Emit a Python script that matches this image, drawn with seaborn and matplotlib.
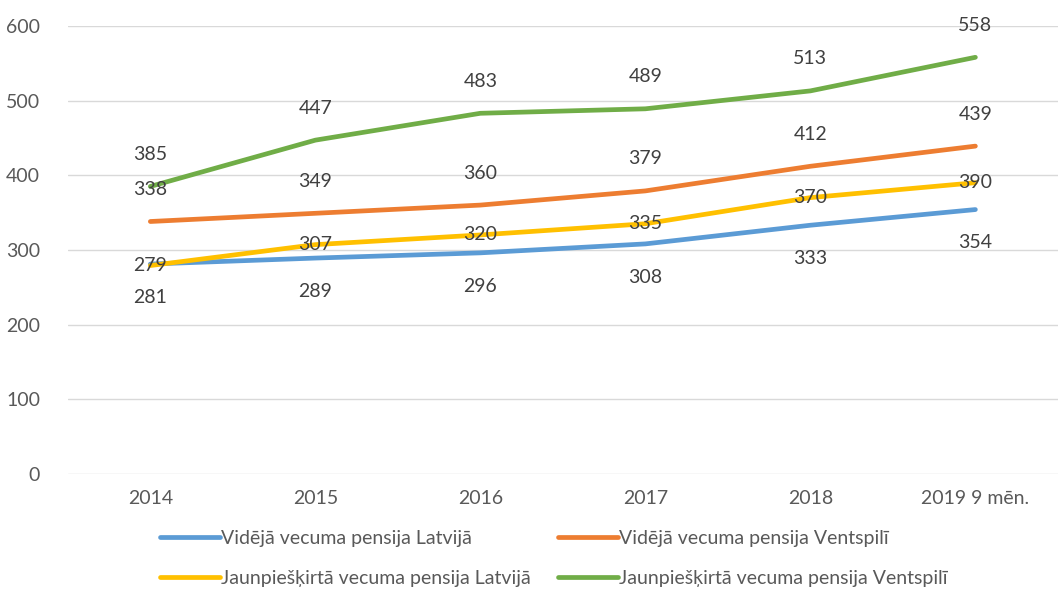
import numpy as np
import pandas as pd
import matplotlib
matplotlib.use("Agg")
import matplotlib.pyplot as plt
import seaborn as sns

years = ["2014", "2015", "2016", "2017", "2018", "2019 9 mēn."]
series_names = [
    "Vidējā vecuma pensija Latvijā",
    "Vidējā vecuma pensija Ventspilī",
    "Jaunpiešķirtā vecuma pensija Latvijā",
    "Jaunpiešķirtā vecuma pensija Ventspilī",
]
avg_latvia = [281, 289, 296, 308, 333, 354]
avg_ventspils = [338, 349, 360, 379, 412, 439]
new_latvia = [279, 307, 320, 335, 370, 390]
new_ventspils = [385, 447, 483, 489, 513, 558]

colors = ["#5b9bd5", "#ed7d31", "#ffc000", "#70ad47"]
# vertical offset of the value labels (points), like Excel's label placement
label_offsets = [-24, 23, 0, 23]

sns.set_theme(style="white")
plt.rcParams["font.family"] = ["Lato", "DejaVu Sans"]

all_values = [avg_latvia, avg_ventspils, new_latvia, new_ventspils]
df = pd.DataFrame({
    "year": years * 4,
    "pos": list(range(len(years))) * 4,
    "value": sum(all_values, []),
    "series": np.repeat(series_names, len(years)),
})

fig = plt.figure(figsize=(10.6, 5.9), dpi=100)
ax = fig.add_axes([0.064, 0.197, 0.934, 0.759])

sns.lineplot(data=df, x="pos", y="value", hue="series", hue_order=series_names,
             palette=colors, linewidth=3.4, ax=ax, solid_capstyle="round")

for vals, off in zip(all_values, label_offsets):
    for i, v in enumerate(vals):
        ax.annotate(str(v), (i, v), xytext=(0, off), textcoords="offset points",
                    ha="center", va="center", fontsize=14, color="#404040")

ax.set_xlim(-0.5, len(years) - 0.5)
ax.set_ylim(0, 600)
ax.set_yticks(range(0, 601, 100))
ax.set_xticks(range(len(years)))
ax.set_xticklabels(years)
ax.set_xlabel("")
ax.set_ylabel("")
ax.grid(axis="y", color="#d9d9d9", linewidth=1)
ax.set_axisbelow(True)
for s in ax.spines.values():
    s.set_visible(False)
ax.tick_params(axis="both", length=0, labelsize=14, labelcolor="#595959")
ax.tick_params(axis="x", pad=12)
ax.tick_params(axis="y", pad=20)

# row-major legend order: blue, orange / yellow, green
handles, labels = ax.get_legend_handles_labels()
order = [0, 2, 1, 3]
ax.legend([handles[i] for i in order], [labels[i] for i in order],
          loc="upper left", bbox_to_anchor=(0.093, -0.125), ncol=2, frameon=False,
          fontsize=14, handlelength=3.1, handletextpad=0.05, columnspacing=1.4,
          labelspacing=1.2, labelcolor="#595959", borderaxespad=0, borderpad=0)

fig.savefig("out.png", dpi=100)
